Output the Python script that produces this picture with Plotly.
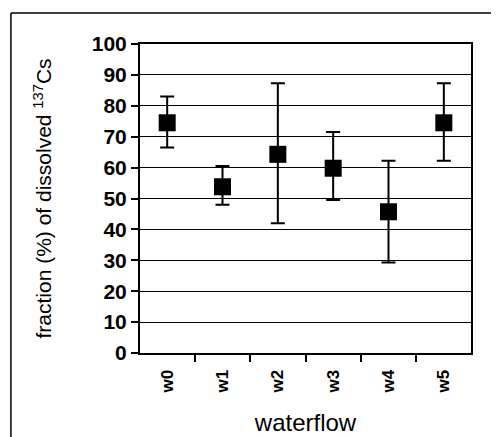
import plotly.graph_objects as go

waterflow = ["w0", "w1", "w2", "w3", "w4", "w5"]
fraction = [74.5, 53.8, 64.3, 59.8, 45.7, 74.5]
err_plus = [8.5, 6.7, 23.0, 11.7, 16.5, 12.8]
err_minus = [8.0, 5.8, 22.3, 10.3, 16.4, 12.3]

fig = go.Figure(go.Scatter(
    x=waterflow, y=fraction,
    mode="markers",
    marker=dict(symbol="square", size=17, color="black"),
    error_y=dict(type="data", symmetric=False, array=err_plus, arrayminus=err_minus,
                 color="black", thickness=2, width=7),
    showlegend=False,
))

# the page body has an 8px margin, so margins are shifted by 8px
fig.update_layout(
    width=499, height=437,
    margin=dict(l=132, r=36, t=36, b=92),
    paper_bgcolor="white", plot_bgcolor="white",
    font=dict(family="Liberation Sans", color="black"),
    xaxis=dict(
        type="category", tickson="boundaries",
        ticks="outside", ticklen=7, tickwidth=1.5, tickcolor="black",
        tickangle=-90, ticklabelstandoff=8,
        tickfont=dict(size=17, weight="bold"),
        showline=True, linecolor="black", linewidth=2, mirror=True,
        showgrid=False,
        title=dict(text="waterflow", font=dict(size=24), standoff=22),
    ),
    yaxis=dict(
        range=[0, 100], dtick=10,
        ticks="outside", ticklen=7, tickwidth=1.5, tickcolor="black",
        tickfont=dict(size=21, weight="bold"),
        showline=True, linecolor="black", linewidth=2, mirror=True,
        showgrid=True, gridcolor="black", gridwidth=1,
        zeroline=False,
        title=dict(text="fraction (%) of dissolved <sup>137</sup>Cs", font=dict(size=21), standoff=34),
    ),
)

# outer frame of the original figure (top and left edges)
fig.add_shape(type="line", xref="paper", yref="paper",
              x0=-0.39, y0=1.1, x1=1.2, y1=1.1, line=dict(color="black", width=1.5))
fig.add_shape(type="line", xref="paper", yref="paper",
              x0=-0.39, y0=1.1, x1=-0.39, y1=-0.3, line=dict(color="black", width=1.5))

fig.write_html("out.html")
